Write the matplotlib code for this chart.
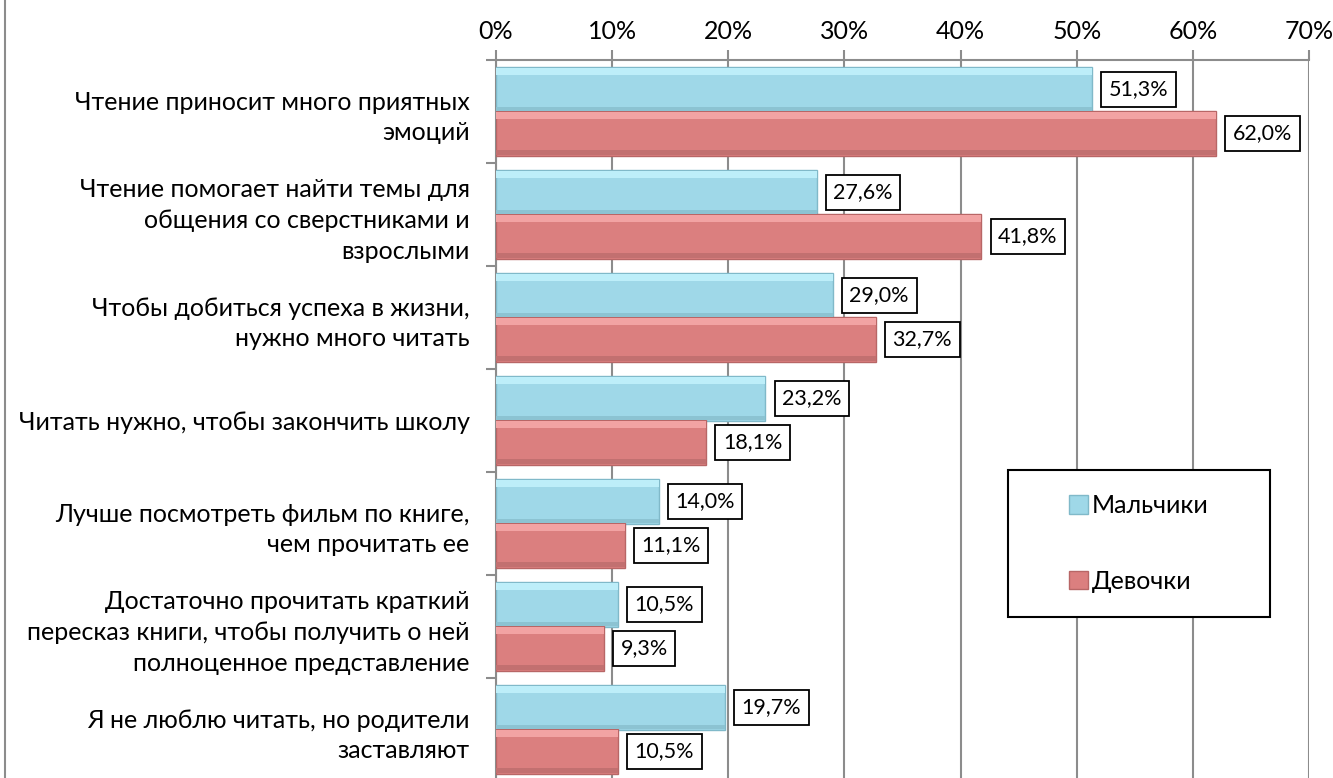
import matplotlib
matplotlib.use("Agg")
import matplotlib.pyplot as plt
from matplotlib.patches import Rectangle
from matplotlib.lines import Line2D
import numpy as np

categories = [
    "Чтение приносит много приятных\nэмоций",
    "Чтение помогает найти темы для\nобщения со сверстниками и\nвзрослыми",
    "Чтобы добиться успеха в жизни,\nнужно много читать",
    "Читать нужно, чтобы закончить школу",
    "Лучше посмотреть фильм по книге,\nчем прочитать ее",
    "Достаточно прочитать краткий\nпересказ книги, чтобы получить о ней\nполноценное представление",
    "Я не люблю читать, но родители\nзаставляют",
]
boys = [51.3, 27.6, 29.0, 23.2, 14.0, 10.5, 19.7]
girls = [62.0, 41.8, 32.7, 18.1, 11.1, 9.3, 10.5]
series_names = ["Мальчики", "Девочки"]
xticks = [0, 10, 20, 30, 40, 50, 60, 70]

FONT = ["Lato", "DejaVu Sans"]
plt.rcParams['font.family'] = FONT

W, H = 1333, 778
fig = plt.figure(figsize=(W / 100, H / 100), dpi=100)
fig.patch.set_facecolor("white")

left_px, right_px, top_px, bottom_px = 496, 1309, 60, 781
ax = fig.add_axes([left_px / W, 1 - bottom_px / H, (right_px - left_px) / W, (bottom_px - top_px) / H])

y = np.arange(len(categories))
bh = 0.43
off = 0.213
blue_face, blue_edge, blue_hi, blue_sh = "#9fd8e8", "#80b9c9", "#bdeef9", "#8cc3d2"
red_face, red_edge, red_hi, red_sh = "#db7f7f", "#b86666", "#f2a3a3", "#c27070"

for vals, yc, face, edge, hi, sh, name in [
    (boys, y - off, blue_face, blue_edge, blue_hi, blue_sh, series_names[0]),
    (girls, y + off, red_face, red_edge, red_hi, red_sh, series_names[1]),
]:
    ax.barh(yc, vals, height=bh, color=face, edgecolor=edge, linewidth=1.0, zorder=3, label=name)
    # bevel highlight (top strip) and shadow (bottom strip)
    ax.barh(yc - bh / 2 + 0.04, vals, height=0.06, color=hi, linewidth=0, zorder=4)
    ax.barh(yc + bh / 2 - 0.03, vals, height=0.04, color=sh, linewidth=0, zorder=4)
    for v, yy in zip(vals, yc):
        ax.annotate(f"{v:.1f}%".replace(".", ","), xy=(v, yy), xytext=(12, 0),
                    textcoords="offset points", va="center", ha="left",
                    fontsize=15.5, color="black", zorder=6,
                    bbox=dict(boxstyle="square,pad=0.35", fc="white", ec="black", lw=1.3))

ax.set_xlim(0, 70)
ax.set_ylim(len(categories) - 0.5, -0.5)
ax.xaxis.tick_top()
ax.set_xticks(xticks)
ax.set_xticklabels([f"{t}%" for t in xticks], fontsize=18)
ax.tick_params(axis="x", which="major", length=7, width=1.5, color="#8c8c8c", pad=5, top=True, bottom=False)

ax.set_yticks(y)
ax.set_yticklabels(categories, fontsize=18, linespacing=1.42)
ax.set_yticks(np.arange(len(categories) + 1) - 0.5, minor=True)
ax.tick_params(axis="y", which="major", length=0, pad=19)
ax.tick_params(axis="y", which="minor", length=7, width=1.5, color="#8c8c8c")
for lab in ax.get_yticklabels():
    lab.set_horizontalalignment("right")

ax.grid(axis="x", color="#8c8c8c", linewidth=1.5, zorder=0)
ax.set_axisbelow(True)
for s in ["right", "bottom"]:
    ax.spines[s].set_visible(False)
for s in ["top", "left"]:
    ax.spines[s].set_color("#8c8c8c")
    ax.spines[s].set_linewidth(1.5)

# legend box
rx0, rx1 = (1008 - left_px) / (right_px - left_px), (1270 - left_px) / (right_px - left_px)
ry0 = 1 - (617 - top_px) / (bottom_px - top_px)
ry1 = 1 - (470 - top_px) / (bottom_px - top_px)
ax.add_patch(Rectangle((rx0, ry0), rx1 - rx0, ry1 - ry0, transform=ax.transAxes,
                       facecolor="white", edgecolor="black", linewidth=1.5, zorder=7))
h1 = Rectangle((0, 0), 1, 1, facecolor=blue_face, edgecolor=blue_edge)
h2 = Rectangle((0, 0), 1, 1, facecolor=red_face, edgecolor=red_edge)
leg = ax.legend([h1, h2], series_names, loc="center", bbox_to_anchor=((rx0 + rx1) / 2, (ry0 + ry1) / 2),
                bbox_transform=ax.transAxes, frameon=False, fontsize=18,
                handlelength=0.75, handleheight=0.75, handletextpad=0.15, labelspacing=2.1)
leg.set_zorder(8)

# chart-area left border
fig.add_artist(Line2D([5 / W, 5 / W], [0, 1], transform=fig.transFigure, color="#8c8c8c", linewidth=1.5))

fig.savefig("out.png", dpi=100)
